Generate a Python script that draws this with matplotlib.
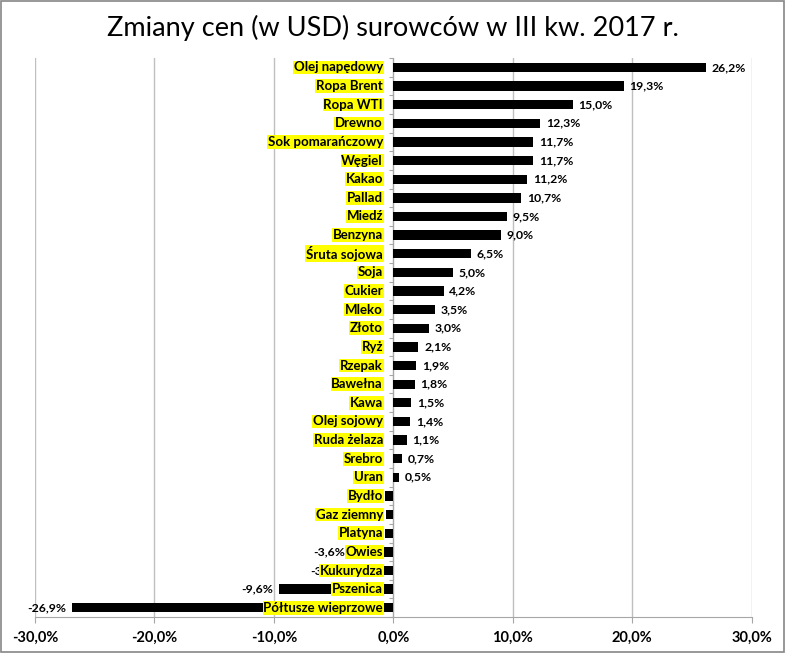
import numpy as np
import matplotlib.pyplot as plt
from matplotlib.patches import Rectangle

plt.rcParams['font.family'] = ['Lato', 'DejaVu Sans']

categories = ['Olej napędowy', 'Ropa Brent', 'Ropa WTI', 'Drewno', 'Sok pomarańczowy',
              'Węgiel', 'Kakao', 'Pallad', 'Miedź', 'Benzyna', 'Śruta sojowa', 'Soja',
              'Cukier', 'Mleko', 'Złoto', 'Ryż', 'Rzepak', 'Bawełna', 'Kawa', 'Olej sojowy',
              'Ruda żelaza', 'Srebro', 'Uran', 'Bydło', 'Gaz ziemny', 'Platyna', 'Owies',
              'Kukurydza', 'Pszenica', 'Półtusze wieprzowe']
changes = [26.2, 19.3, 15.0, 12.3, 11.7, 11.7, 11.2, 10.7, 9.5, 9.0, 6.5, 5.0,
           4.2, 3.5, 3.0, 2.1, 1.9, 1.8, 1.5, 1.4, 1.1, 0.7, 0.5, -0.7, -0.6, -0.7,
           -3.6, -3.8, -9.6, -26.9]
xticks = [-30, -20, -10, 0, 10, 20, 30]

fig = plt.figure(figsize=(7.86, 6.53), dpi=100)
ax = fig.add_axes([0.0445, 0.055, 0.912, 0.856])

y = np.arange(len(categories))
ax.barh(y, changes, height=0.5, color='black', zorder=3)

# value labels
for yi, v in zip(y, changes):
    lab = f'{v:.1f}%'.replace('.', ',')
    if v >= 0:
        ax.annotate(lab, (v, yi), xytext=(4, 0), textcoords='offset points',
                    ha='left', va='center', fontsize=8.8, fontweight='bold', zorder=4)
    else:
        ax.annotate(lab, (v, yi), xytext=(-4, 0), textcoords='offset points',
                    ha='right', va='center', fontsize=8.8, fontweight='bold', zorder=4)

# category names on yellow, left of the zero line
for yi, name in zip(y, categories):
    ax.annotate(name, (0, yi), xytext=(-7.5, 0), textcoords='offset points',
                ha='right', va='center', fontsize=9.5, fontweight='bold', zorder=6,
                bbox=dict(boxstyle='square,pad=0.06', fc='#FFFF00', ec='none'))

ax.set_xlim(-30, 30)
ax.set_ylim(len(categories) - 0.5, -0.5)
ax.set_xticks(xticks)
ax.set_xticklabels([f'{t:.1f}%'.replace('.', ',') for t in xticks],
                   fontsize=10.5, fontweight='bold')
ax.set_yticks(np.arange(len(categories) + 1) - 0.5)
ax.set_yticklabels([])
ax.grid(axis='x', color='#BFBFBF', linewidth=1, zorder=0)
ax.set_axisbelow(True)

for s in ['top', 'right']:
    ax.spines[s].set_visible(False)
ax.spines['left'].set_position(('data', 0))
ax.spines['left'].set_color('#A6A6A6')
ax.spines['bottom'].set_color('#A6A6A6')
ax.tick_params(axis='y', length=3, color='#A6A6A6', direction='out')
ax.tick_params(axis='x', length=4, color='#A6A6A6', direction='out', pad=6)

fig.text(0.5, 0.957, 'Zmiany cen (w USD) surowców w III kw. 2017 r.',
         ha='center', va='center', fontsize=19.5)

fig.patches.append(Rectangle((0.001, 0.001), 0.997, 0.997, transform=fig.transFigure,
                             fill=False, ec='#868686', lw=1.2))

fig.savefig('out.png', dpi=100)
plt.close()
